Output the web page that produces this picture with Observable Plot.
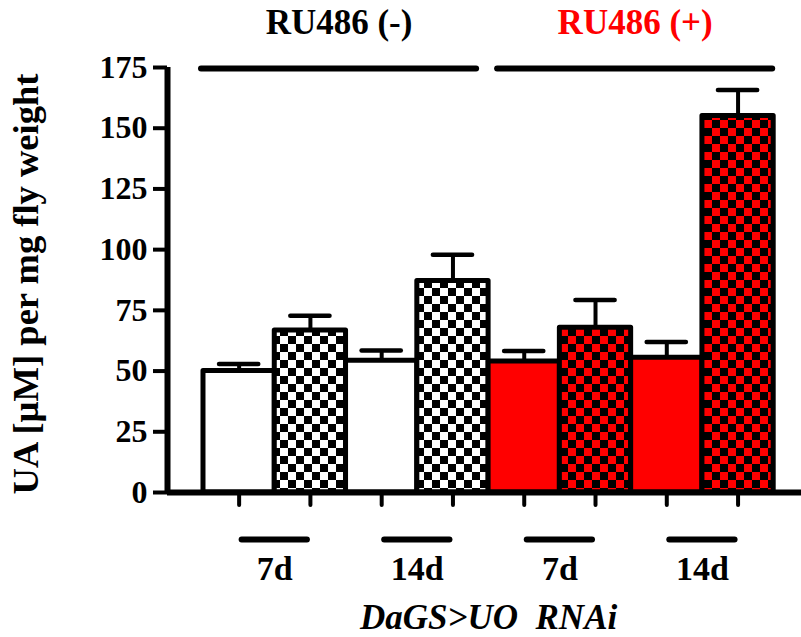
<!DOCTYPE html>
<html>
<head>
<meta charset="utf-8">
<script src="https://cdn.jsdelivr.net/npm/d3@7"></script>
<script src="https://cdn.jsdelivr.net/npm/@observablehq/plot@0.6"></script>
<style>
  html, body { margin: 0; padding: 0; background: #fff; }
  #chart svg { display: block; }
</style>
</head>
<body>
<div id="chart"></div>
<script>
// ---- data ----
const groups = ["RU486 (-)", "RU486 (+)"];
const days = ["7d", "14d"];
const series = ["plain", "checkered"];
const values = [50, 66.7, 54.2, 87.1, 53.9, 67.8, 55.5, 155];
const errors = [2.9, 6.1, 4.3, 10.8, 4.4, 11.5, 6.5, 10.7];
const yTicks = [0, 25, 50, 75, 100, 125, 150, 175];
const xTitle = "DaGS>UO\u00a0 RNAi";
const yTitle = "UA [µM] per mg fly weight";

// ---- styles ----
const RED = "#ff0000";
const groupBase = ["#ffffff", RED];          // plain fill / checker light colour per group
const groupText = ["#000000", RED];
const headerShift = [-7, 4];
const FONT = "'Liberation Serif', 'Times New Roman', serif";
const yMax = 175;
const xDomain = [-0.505, 8.39];

// ---- build table ----
const bars = [];
groups.forEach((g, gi) => days.forEach((d, di) => series.forEach((s, si) => {
  const i = bars.length;
  bars.push({group: g, gi, day: d, series: s, si, i, value: values[i], error: errors[i]});
})));
const pairs = bars.filter(b => b.si === 0).map(b => ({day: b.day, start: b.i}));
const headers = groups.map((g, gi) => {
  const gb = bars.filter(b => b.gi === gi);
  return {label: g, gi, start: gb[0].i, end: gb[gb.length - 1].i + 1};
});
const fillOf = b => b.si === 0 ? groupBase[b.gi] : `url(#chk${b.gi})`;
const capHalf = 0.275;

const marks = [
  Plot.rectY(bars, {
    x1: d => d.i, x2: d => d.i + 1, y: "value",
    fill: fillOf, stroke: "black", strokeWidth: 5, strokeLinejoin: "round"
  }),
  Plot.ruleX(bars, {x: d => d.i + 0.5, y1: "value", y2: d => d.value + d.error, stroke: "black", strokeWidth: 4}),
  Plot.ruleY(bars, {
    y: d => d.value + d.error, x1: d => d.i + 0.5 - capHalf, x2: d => d.i + 0.5 + capHalf,
    stroke: "black", strokeWidth: 4.5, strokeLinecap: "round"
  }),
  Plot.ruleY([0], {stroke: "black", strokeWidth: 6}),
  Plot.ruleX([xDomain[0]], {stroke: "black", strokeWidth: 6}),
  Plot.axisY(yTicks, {
    tickSize: 14, tickPadding: 6, strokeWidth: 4, label: null,
    fontSize: 32, fontWeight: "bold", fill: "black", stroke: "black"
  }),
  Plot.axisX(bars.map(d => d.i + 0.5), {
    tickSize: 13, strokeWidth: 4, strokeLinecap: "round", tickFormat: () => "", label: null, stroke: "black"
  }),
  Plot.ruleY(pairs, {
    y: () => 0, x1: d => d.start + 0.5, x2: d => d.start + 1.5, dy: 47,
    insetLeft: 3, insetRight: 3, stroke: "black", strokeWidth: 6, strokeLinecap: "round"
  }),
  Plot.text(pairs, {
    x: d => d.start + 1, y: () => 0, text: "day", dy: 87, lineAnchor: "bottom",
    fontSize: 34, fontWeight: "bold", fill: "black"
  }),
  Plot.text([xTitle], {
    x: () => bars.length / 2, y: () => 0, text: d => d, dy: 136, lineAnchor: "bottom",
    fontSize: 35, fontWeight: "bold", fontStyle: "italic", fill: "black"
  }),
  Plot.text([yTitle], {
    frameAnchor: "left", text: d => d, rotate: -90, dx: -130, dy: 4,
    textAnchor: "middle", lineAnchor: "bottom",
    fontSize: 36.5, fontWeight: "bold", fill: "black"
  }),
  ...headers.map(h => Plot.ruleY([h], {
    y: () => yMax, x1: "start", x2: "end", dx: headerShift[h.gi], dy: 1,
    insetLeft: 5, insetRight: 5, stroke: "black", strokeWidth: 6, strokeLinecap: "round"
  })),
  ...headers.map(h => Plot.text([h], {
    x: d => (d.start + d.end) / 2, y: () => yMax, text: "label", dx: headerShift[h.gi], dy: -34,
    lineAnchor: "bottom", fontSize: 35, fontWeight: "bold", fill: groupText[h.gi]
  }))
];

const chart = Plot.plot({
  width: 801,
  height: 637,
  marginLeft: 167,
  marginRight: 0,
  marginTop: 67,
  marginBottom: 145,
  x: {type: "linear", domain: xDomain},
  y: {domain: [0, yMax]},
  color: {type: "identity"},
  style: {fontFamily: FONT, background: "white", color: "black", overflow: "visible"},
  marks
});

// checkerboard patterns
const defs = d3.select(chart).insert("defs", ":first-child");
groupBase.forEach((c, gi) => {
  const p = defs.append("pattern").attr("id", `chk${gi}`)
    .attr("patternUnits", "userSpaceOnUse").attr("width", 16).attr("height", 16);
  p.append("rect").attr("width", 16).attr("height", 16).attr("fill", c);
  p.append("rect").attr("width", 8).attr("height", 8).attr("fill", "black");
  p.append("rect").attr("x", 8).attr("y", 8).attr("width", 8).attr("height", 8).attr("fill", "black");
});

document.getElementById("chart").appendChild(chart);
</script>
</body>
</html>
